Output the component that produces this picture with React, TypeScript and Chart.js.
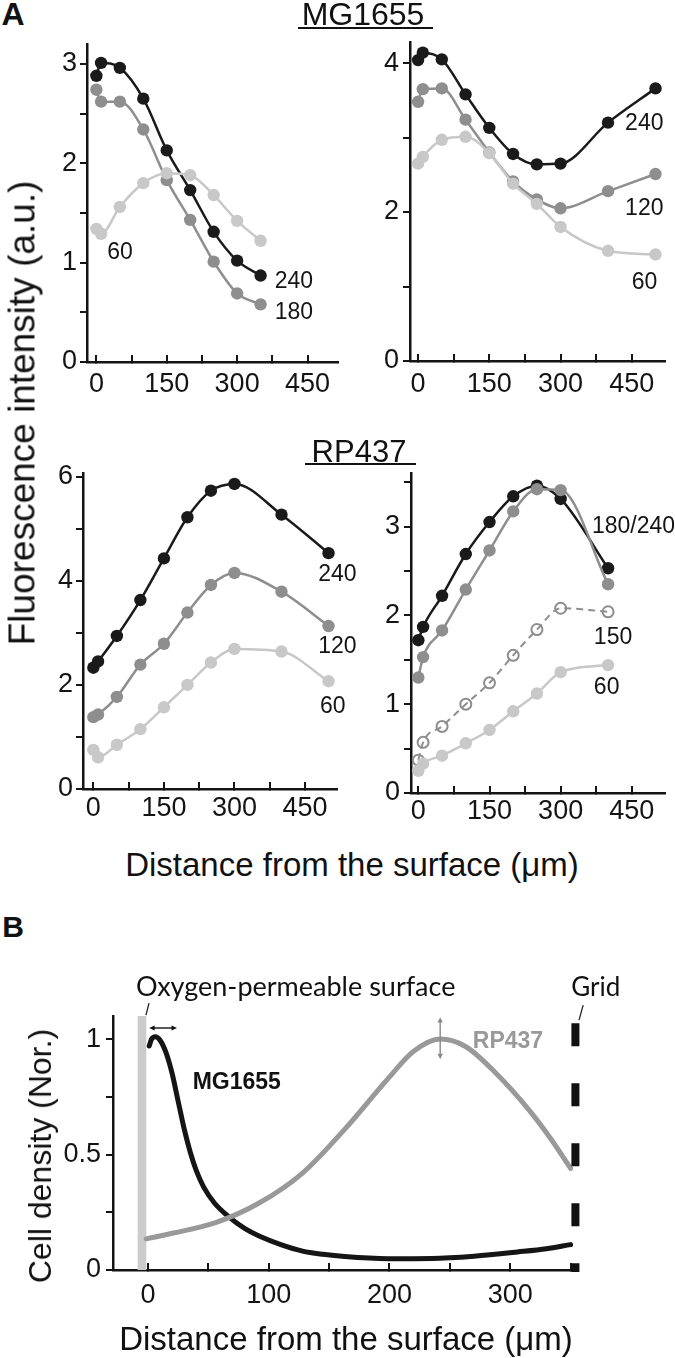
import React, { useEffect, useRef } from 'react';
import { Chart, registerables } from 'chart.js';

Chart.register(...registerables);

const FONT = "'Liberation Sans', Arial, Helvetica, sans-serif";
const CAL = "Lato, 'Open Sans', sans-serif";
const INK = '#141414';
const BLACK = '#1a1a1a';
const GRAY = '#8e8e8e';
const LIGHT = '#c8c8c8';

// ---------- Panel A, MG1655 (left) ----------
const mgLeftX = [0, 10, 50, 100, 150, 200, 250, 300, 350];
const mgLeft240 = [2.88, 3.01, 2.96, 2.65, 2.13, 1.73, 1.31, 1.02, 0.87];
const mgLeft180 = [2.74, 2.62, 2.62, 2.34, 1.83, 1.43, 1.01, 0.69, 0.58];
const mgLeft60 = [1.34, 1.29, 1.56, 1.8, 1.9, 1.88, 1.68, 1.42, 1.22];

// ---------- Panel A, MG1655 (right) ----------
const mgRightX = [0, 10, 50, 100, 150, 200, 250, 300, 400, 500];
const mgRight240 = [4.04, 4.14, 4.05, 3.58, 3.13, 2.78, 2.64, 2.65, 3.2, 3.66];
const mgRight120 = [3.48, 3.65, 3.66, 3.24, 2.8, 2.41, 2.17, 2.05, 2.28, 2.51];
const mgRight60 = [2.65, 2.74, 2.97, 3.01, 2.79, 2.38, 2.11, 1.8, 1.48, 1.43];

// ---------- Panel A, RP437 (left) ----------
const rpLeftX = [0, 10, 50, 100, 150, 200, 250, 300, 400, 500];
const rpLeft240 = [2.33, 2.45, 2.94, 3.63, 4.43, 5.22, 5.73, 5.86, 5.27, 4.53];
const rpLeft120 = [1.38, 1.43, 1.77, 2.39, 2.79, 3.39, 3.92, 4.15, 3.79, 3.13];
const rpLeft60 = [0.75, 0.61, 0.85, 1.15, 1.57, 2.0, 2.43, 2.69, 2.64, 2.07];

// ---------- Panel A, RP437 (right) ----------
const rpRightX = [0, 10, 50, 100, 150, 200, 250, 300, 400];
const rpRight240 = [1.72, 1.87, 2.22, 2.69, 3.05, 3.34, 3.46, 3.31, 2.53];
const rpRight180 = [1.3, 1.53, 1.83, 2.29, 2.73, 3.17, 3.42, 3.41, 2.35];
const rpRight150 = [0.37, 0.57, 0.75, 1.0, 1.24, 1.55, 1.84, 2.08, 2.04];
const rpRight60 = [0.25, 0.33, 0.42, 0.56, 0.71, 0.92, 1.12, 1.36, 1.44];

// ---------- Panel B ----------
const bMgX = [1, 3, 6, 10, 15, 20, 25, 30, 35, 40, 46, 55, 67, 80, 92, 110, 128, 145, 163, 199, 235, 270, 306, 330, 350];
const bMgY = [0.97, 1.0, 1.01, 0.995, 0.94, 0.85, 0.73, 0.61, 0.51, 0.43, 0.36, 0.29, 0.23, 0.18, 0.147, 0.11, 0.082, 0.068, 0.058, 0.049, 0.05, 0.06, 0.078, 0.092, 0.11];
const bRpX = [-1.5, 21, 56, 92, 128, 163, 199, 220, 242, 263, 288, 316, 334, 350];
const bRpY = [0.135, 0.16, 0.205, 0.29, 0.42, 0.61, 0.83, 0.947, 1.0, 0.968, 0.853, 0.69, 0.565, 0.44];

// curve labels [text, x, y]
const mgLeftLabels: [string, number, number][] = [['240', 380, 0.81], ['180', 380, 0.5], ['60', 23, 1.1]];
const mgRightLabels: [string, number, number][] = [['240', 436, 3.19], ['120', 436, 2.05], ['60', 450, 1.05]];
const rpLeftLabels: [string, number, number][] = [['240', 478, 4.12], ['120', 478, 2.73], ['60', 482, 1.58]];
const rpRightLabels: [string, number, number][] = [['180/240', 366, 3.0], ['150', 370, 1.75], ['60', 370, 1.19]];

const pts = (xs: number[], ys: number[]) => xs.map((x, i) => ({ x, y: ys[i] }));

const markerSeries = (xs: number[], ys: number[], color: string) => ({
  type: 'line',
  data: pts(xs, ys),
  borderColor: color,
  backgroundColor: color,
  borderWidth: 2.5,
  pointRadius: 6.2,
  pointBackgroundColor: color,
  pointBorderWidth: 0,
  cubicInterpolationMode: 'monotone',
});

type Axis = { min: number; max: number; step: number; labelStep: number };
type Spec = {
  area: { L: number; T: number; R: number; B: number };
  padTop: number;
  padRight: number;
  yW: number;
  xH: number;
  xPad: number;
  yPad: number;
  tickSize: number;
  x: Axis;
  y: Axis;
  datasets: any[];
  before?: (c: any) => void;
  after?: (c: any) => void;
};

const isLabel = (v: number, step: number) => Math.abs(v / step - Math.round(v / step)) < 1e-6;
const fmt = (v: number) => String(Number(v.toFixed(2)));

function axisOpts(a: Axis, isX: boolean, s: Spec) {
  return {
    type: 'linear',
    min: a.min,
    max: a.max,
    border: { display: true, color: INK, width: 2.5 },
    grid: { display: true, drawOnChartArea: false, drawTicks: true, tickLength: isX ? -7 : 7, color: INK, lineWidth: 2 },
    ticks: {
      stepSize: a.step,
      includeBounds: false,
      autoSkip: false,
      maxRotation: 0,
      minRotation: 0,
      padding: isX ? s.xPad : s.yPad,
      color: INK,
      font: { family: FONT, size: s.tickSize },
      callback: (v: any) => (isLabel(Number(v), a.labelStep) ? fmt(Number(v)) : ''),
    },
    afterFit: (sc: any) => {
      if (isX) sc.height = s.xH;
      else sc.width = s.yW;
    },
  };
}

function drawText(c: any, text: string, x: number, y: number, font: string, color: string, align: CanvasTextAlign = 'left') {
  const ctx = c.ctx;
  ctx.save();
  ctx.font = font;
  ctx.fillStyle = color;
  ctx.textAlign = align;
  ctx.textBaseline = 'middle';
  ctx.fillText(text, c.scales.x.getPixelForValue(x), c.scales.y.getPixelForValue(y));
  ctx.restore();
}

const labelDrawer = (labels: [string, number, number][]) => (c: any) => {
  labels.forEach(([t, x, y]) => drawText(c, t, x, y, `23px ${FONT}`, INK));
};

function dArrow(ctx: CanvasRenderingContext2D, x1: number, y1: number, x2: number, y2: number, color: string, w: number, head: number) {
  ctx.save();
  ctx.strokeStyle = color;
  ctx.fillStyle = color;
  ctx.lineWidth = w;
  const ang = Math.atan2(y2 - y1, x2 - x1);
  const ux = Math.cos(ang), uy = Math.sin(ang);
  ctx.beginPath();
  ctx.moveTo(x1 + ux * head * 0.6, y1 + uy * head * 0.6);
  ctx.lineTo(x2 - ux * head * 0.6, y2 - uy * head * 0.6);
  ctx.stroke();
  const tips: [number, number, number][] = [[x2, y2, ang], [x1, y1, ang + Math.PI]];
  tips.forEach(([px, py, a]) => {
    ctx.beginPath();
    ctx.moveTo(px, py);
    ctx.lineTo(px - head * Math.cos(a - 0.45), py - head * Math.sin(a - 0.45));
    ctx.lineTo(px - head * Math.cos(a + 0.45), py - head * Math.sin(a + 0.45));
    ctx.closePath();
    ctx.fill();
  });
  ctx.restore();
}

const specs: Spec[] = [
  {
    area: { L: 87, T: 44, R: 338, B: 362 },
    padTop: 20, padRight: 30, yW: 60, xH: 50, xPad: 13, yPad: 3, tickSize: 27,
    x: { min: -20, max: 515, step: 75, labelStep: 150 },
    y: { min: 0, max: 3.2, step: 0.5, labelStep: 1 },
    datasets: [markerSeries(mgLeftX, mgLeft60, LIGHT), markerSeries(mgLeftX, mgLeft180, GRAY), markerSeries(mgLeftX, mgLeft240, BLACK)],
    after: labelDrawer(mgLeftLabels),
  },
  {
    area: { L: 410, T: 42, R: 665, B: 361 },
    padTop: 20, padRight: 10, yW: 60, xH: 50, xPad: 14, yPad: 4, tickSize: 27,
    x: { min: -17, max: 520, step: 75, labelStep: 150 },
    y: { min: 0, max: 4.28, step: 1, labelStep: 2 },
    datasets: [markerSeries(mgRightX, mgRight60, LIGHT), markerSeries(mgRightX, mgRight120, GRAY), markerSeries(mgRightX, mgRight240, BLACK)],
    after: labelDrawer(mgRightLabels),
  },
  {
    area: { L: 83, T: 473, R: 337, B: 789 },
    padTop: 20, padRight: 30, yW: 60, xH: 50, xPad: 10, yPad: 3, tickSize: 27,
    x: { min: -22, max: 518, step: 75, labelStep: 150 },
    y: { min: 0, max: 6.07, step: 1, labelStep: 2 },
    datasets: [markerSeries(rpLeftX, rpLeft60, LIGHT), markerSeries(rpLeftX, rpLeft120, GRAY), markerSeries(rpLeftX, rpLeft240, BLACK)],
    after: labelDrawer(rpLeftLabels),
  },
  {
    area: { L: 411, T: 473, R: 665, B: 793 },
    padTop: 20, padRight: 10, yW: 60, xH: 50, xPad: 9, yPad: 4, tickSize: 27,
    x: { min: -15.5, max: 520, step: 75, labelStep: 150 },
    y: { min: 0, max: 3.6, step: 0.5, labelStep: 1 },
    datasets: [
      markerSeries(rpRightX, rpRight60, LIGHT),
      {
        type: 'line',
        data: pts(rpRightX, rpRight150),
        borderColor: GRAY,
        borderWidth: 2,
        borderDash: [7, 5],
        pointRadius: 5.5,
        pointBorderWidth: 2,
        pointBorderColor: GRAY,
        pointBackgroundColor: 'rgba(0,0,0,0)',
        backgroundColor: 'rgba(0,0,0,0)',
        cubicInterpolationMode: 'monotone',
      },
      markerSeries(rpRightX, rpRight180, GRAY),
      markerSeries(rpRightX, rpRight240, BLACK),
    ],
    after: labelDrawer(rpRightLabels),
  },
  {
    area: { L: 113, T: 1016, R: 573, B: 1270 },
    padTop: 60, padRight: 60, yW: 60, xH: 50, xPad: 16, yPad: 5, tickSize: 27,
    x: { min: -29, max: 352, step: 50, labelStep: 100 },
    y: { min: 0, max: 1.1, step: 0.25, labelStep: 0.5 },
    datasets: [
      { type: 'line', data: pts(bRpX, bRpY), borderColor: '#999999', borderWidth: 5, pointRadius: 0, cubicInterpolationMode: 'monotone', borderCapStyle: 'round' },
      { type: 'line', data: pts(bMgX, bMgY), borderColor: '#151515', borderWidth: 5, pointRadius: 0, cubicInterpolationMode: 'monotone', borderCapStyle: 'round' },
    ],
    before: (c: any) => {
      const { x, y } = c.scales;
      const ctx = c.ctx;
      ctx.save();
      ctx.fillStyle = '#cccccc';
      const x1 = x.getPixelForValue(-8.6), x2 = x.getPixelForValue(-1.4);
      const yt = y.getPixelForValue(1.1), yb = y.getPixelForValue(0);
      ctx.fillRect(x1, yt, x2 - x1, yb - yt);
      ctx.restore();
    },
    after: (c: any) => {
      const { x, y } = c.scales;
      const ctx = c.ctx;
      // grid (dashed bar)
      ctx.save();
      ctx.strokeStyle = '#111';
      ctx.lineWidth = 8;
      ctx.setLineDash([23, 37]);
      ctx.beginPath();
      const gx = x.getPixelForValue(354);
      ctx.moveTo(gx, y.getPixelForValue(1.069));
      ctx.lineTo(gx, y.getPixelForValue(0) + 2);
      ctx.stroke();
      ctx.restore();
      // leader slashes
      ctx.save();
      ctx.strokeStyle = '#222';
      ctx.lineWidth = 1.3;
      ctx.beginPath();
      ctx.moveTo(x.getPixelForValue(-1.7), y.getPixelForValue(1.104));
      ctx.lineTo(x.getPixelForValue(0.8), y.getPixelForValue(1.156));
      ctx.moveTo(x.getPixelForValue(357), y.getPixelForValue(1.082));
      ctx.lineTo(x.getPixelForValue(360.4), y.getPixelForValue(1.147));
      ctx.stroke();
      ctx.restore();
      // arrows
      dArrow(ctx, x.getPixelForValue(1), y.getPixelForValue(1.048), x.getPixelForValue(24), y.getPixelForValue(1.048), '#111', 1.4, 6);
      dArrow(ctx, x.getPixelForValue(242), y.getPixelForValue(1.095), x.getPixelForValue(242), y.getPixelForValue(0.913), '#888', 1.4, 6);
      // texts
      drawText(c, 'MG1655', 37, 0.81, `bold 23px ${FONT}`, '#111');
      drawText(c, 'RP437', 269, 0.99, `bold 23px ${FONT}`, '#999999');
      drawText(c, 'Oxygen-permeable surface', -10, 1.225, `27px ${CAL}`, '#111');
      drawText(c, 'Grid', 350.5, 1.225, `26px ${CAL}`, '#111');
    },
  },
];

function PanelChart({ spec }: { spec: Spec }) {
  const ref = useRef<HTMLCanvasElement>(null);
  const { L, T, R, B } = spec.area;
  const left = L - spec.yW;
  const top = T - spec.padTop;
  const w = R - L + spec.yW + spec.padRight;
  const h = B - T + spec.padTop + spec.xH;
  useEffect(() => {
    const chart = new Chart(ref.current as HTMLCanvasElement, {
      type: 'line',
      data: { datasets: spec.datasets },
      options: {
        responsive: false,
        animation: false,
        devicePixelRatio: 1,
        layout: { padding: { left: 0, top: spec.padTop, right: spec.padRight, bottom: 0 } },
        plugins: { legend: { display: false }, tooltip: { enabled: false } },
        scales: { x: axisOpts(spec.x, true, spec), y: axisOpts(spec.y, false, spec) },
      } as any,
      plugins: [
        {
          id: 'annot',
          beforeDatasetsDraw: (c: any) => spec.before && spec.before(c),
          afterDatasetsDraw: (c: any) => spec.after && spec.after(c),
        },
      ],
    } as any);
    return () => chart.destroy();
  }, []);
  return <canvas ref={ref} width={w} height={h} style={{ position: 'absolute', left, top, width: w, height: h }} />;
}

function Txt(props: { x: number; y: number; size: number; bold?: boolean; rotate?: boolean; family?: string; children: React.ReactNode }) {
  return (
    <div
      style={{
        position: 'absolute',
        left: props.x,
        top: props.y,
        transform: `translate(-50%, -50%)${props.rotate ? ' rotate(-90deg)' : ''}`,
        fontSize: props.size,
        fontWeight: props.bold ? 700 : 400,
        fontFamily: props.family || FONT,
        lineHeight: 1,
        whiteSpace: 'nowrap',
        color: '#111',
      }}
    >
      {props.children}
    </div>
  );
}

const Rule = ({ x1, x2, y }: { x1: number; x2: number; y: number }) => (
  <div style={{ position: 'absolute', left: x1, top: y - 1, width: x2 - x1, height: 2, background: '#111' }} />
);

export default function App() {
  useEffect(() => {
    document.body.style.margin = '0';
  }, []);
  return (
    <div style={{ position: 'absolute', left: 0, top: 0, width: 675, height: 1358, background: '#fff', overflow: 'hidden' }}>
      {specs.map((s, i) => (
        <PanelChart key={i} spec={s} />
      ))}
      <Txt x={13} y={14} size={32} bold>A</Txt>
      <Txt x={13} y={927} size={30} bold>B</Txt>
      <Txt x={363} y={14} size={32}>MG1655</Txt>
      <Rule x1={298} x2={433} y={28} />
      <Txt x={359} y={451} size={31}>RP437</Txt>
      <Rule x1={305} x2={416} y={464} />
      <Txt x={22} y={413} size={37} rotate>Fluorescence intensity (a.u.)</Txt>
      <Txt x={352} y={864} size={33}>Distance from the surface (μm)</Txt>
      <Txt x={40} y={1156} size={32} rotate>Cell density (Nor.)</Txt>
      <Txt x={346} y={1338} size={33}>Distance from the surface (μm)</Txt>
    </div>
  );
}
